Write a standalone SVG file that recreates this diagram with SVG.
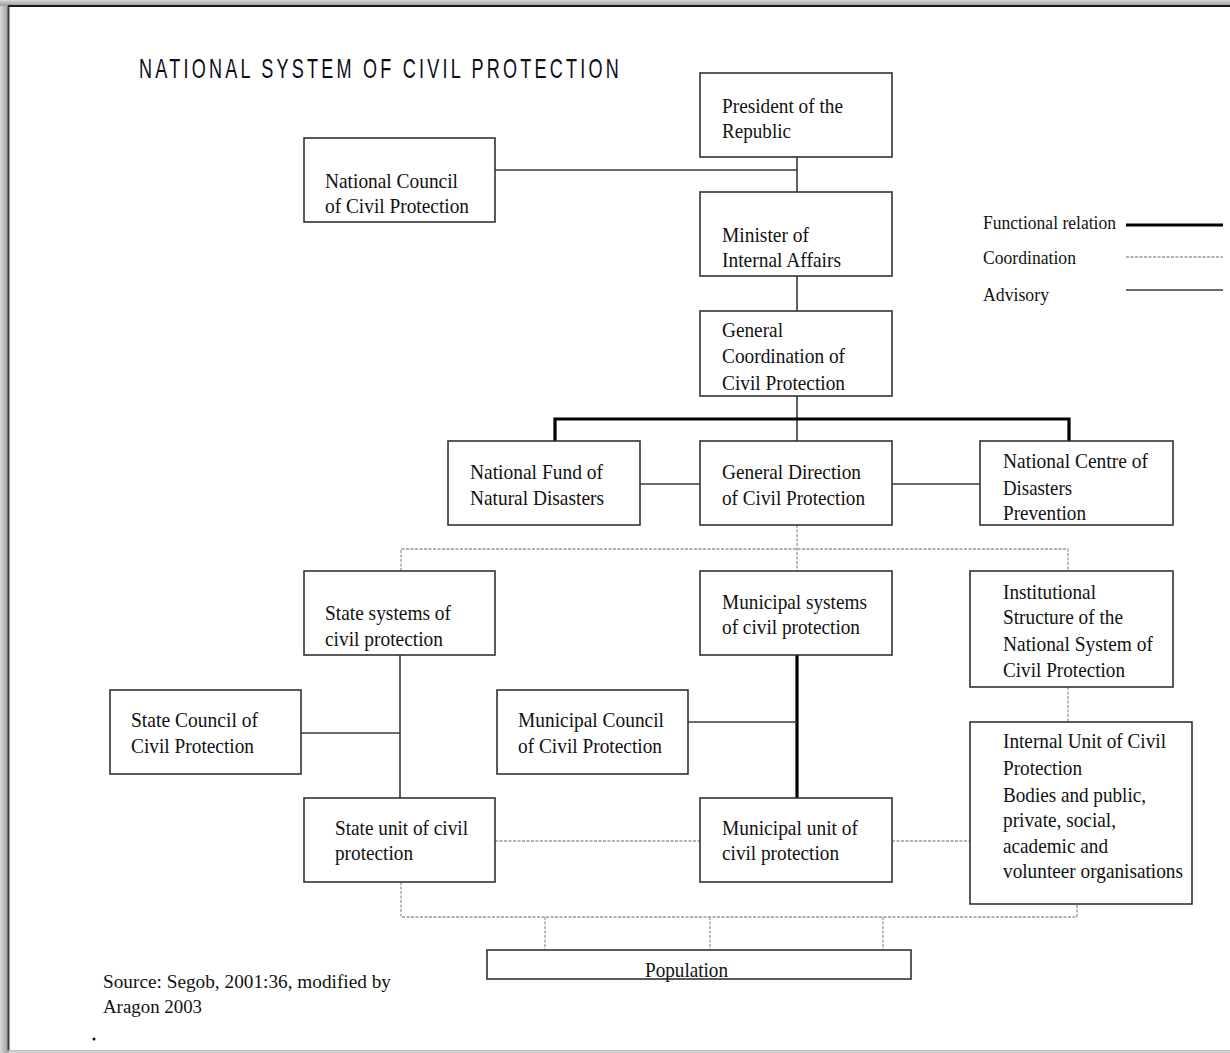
<svg xmlns="http://www.w3.org/2000/svg" width="1230" height="1053" viewBox="0 0 1230 1053">
<defs>
<linearGradient id="gl" x1="0" y1="0" x2="1" y2="0"><stop offset="0" stop-color="#d8d8d8"/><stop offset="1" stop-color="#9a9a9a"/></linearGradient>
<linearGradient id="gt" x1="0" y1="0" x2="0" y2="1"><stop offset="0" stop-color="#d8d8d8"/><stop offset="1" stop-color="#9a9a9a"/></linearGradient>
</defs>
<style>
.box{fill:#fff;stroke:#333;stroke-width:1.6}
.t{font-family:"Liberation Serif","Times New Roman",serif;font-size:21px;fill:#111}
.src{font-family:"Liberation Serif","Times New Roman",serif;font-size:19.5px;fill:#111}
.title{font-family:"Liberation Sans",Arial,sans-serif;font-size:28px;fill:#0d0d1a;letter-spacing:5px}
.adv{stroke:#3a3a3a;stroke-width:1.6;fill:none}
.fun{stroke:#000;stroke-width:3.2;fill:none}
.coo{stroke:#999;stroke-width:1.3;stroke-dasharray:3 1.5;fill:none}
</style>
<rect x="0" y="0" width="1230" height="1053" fill="#d0d0d0"/>
<rect x="0" y="0" width="9" height="1053" fill="url(#gl)"/>
<rect x="0" y="0" width="1230" height="6" fill="url(#gt)"/>
<rect x="9" y="6" width="1230" height="1044" fill="#fff"/>
<line x1="8.5" y1="6" x2="8.5" y2="1050" stroke="#3c3c3c" stroke-width="2"/>
<line x1="8" y1="6" x2="1230" y2="6" stroke="#1a1a1a" stroke-width="2"/>
<line x1="9" y1="1050.5" x2="1230" y2="1050.5" stroke="#bdbdbd" stroke-width="1"/>

<text class="title" x="139" y="78" textLength="483" lengthAdjust="spacingAndGlyphs">NATIONAL SYSTEM OF CIVIL PROTECTION</text>

<g id="connectors">
<line class="adv" x1="495" y1="170" x2="797" y2="170"/>
<line class="adv" x1="797" y1="157" x2="797" y2="192"/>
<line class="adv" x1="797" y1="276" x2="797" y2="311"/>
<line class="adv" x1="797" y1="396" x2="797" y2="441"/>
<line class="adv" x1="640" y1="484" x2="700" y2="484"/>
<line class="adv" x1="892" y1="484" x2="980" y2="484"/>
<path class="fun" d="M555 441 V419 H1069 V441"/>
<line class="coo" x1="797" y1="525" x2="797" y2="571"/>
<path class="coo" d="M401 571 V549 H1068 V571"/>
<line class="adv" x1="400" y1="655" x2="400" y2="798"/>
<line class="adv" x1="301" y1="733" x2="400" y2="733"/>
<line class="fun" x1="797" y1="655" x2="797" y2="798"/>
<line class="adv" x1="688" y1="722" x2="797" y2="722"/>
<line class="coo" x1="1068" y1="687" x2="1068" y2="722"/>
<line class="coo" x1="495" y1="841" x2="700" y2="841"/>
<line class="coo" x1="892" y1="841" x2="970" y2="841"/>
<path class="coo" d="M401 882 V917 H1077 V904"/>
<line class="coo" x1="545" y1="917" x2="545" y2="950"/>
<line class="coo" x1="710" y1="917" x2="710" y2="950"/>
<line class="coo" x1="883" y1="917" x2="883" y2="950"/>
</g>

<g id="legend">
<text class="src" x="983" y="229" textLength="133" lengthAdjust="spacingAndGlyphs">Functional relation</text>
<text class="src" x="983" y="264" textLength="93" lengthAdjust="spacingAndGlyphs">Coordination</text>
<text class="src" x="983" y="301" textLength="66" lengthAdjust="spacingAndGlyphs">Advisory</text>
<line class="fun" x1="1126" y1="225" x2="1223" y2="225"/>
<line class="coo" x1="1126" y1="257" x2="1223" y2="257" stroke="#bbb"/>
<line class="adv" x1="1126" y1="290" x2="1223" y2="290" stroke="#555"/>
</g>

<g id="president"><rect class="box" x="700" y="73" width="192" height="84"/>
<text class="t" x="722" y="113" textLength="121" lengthAdjust="spacingAndGlyphs">President of the</text>
<text class="t" x="722" y="138" textLength="69" lengthAdjust="spacingAndGlyphs">Republic</text></g>

<g id="national-council"><rect class="box" x="304" y="138" width="191" height="84"/>
<text class="t" x="325" y="188" textLength="133" lengthAdjust="spacingAndGlyphs">National Council</text>
<text class="t" x="325" y="213" textLength="144" lengthAdjust="spacingAndGlyphs">of Civil Protection</text></g>

<g id="minister"><rect class="box" x="700" y="192" width="192" height="84"/>
<text class="t" x="722" y="242" textLength="87" lengthAdjust="spacingAndGlyphs">Minister of</text>
<text class="t" x="722" y="267" textLength="119" lengthAdjust="spacingAndGlyphs">Internal Affairs</text></g>

<g id="general-coordination"><rect class="box" x="700" y="311" width="192" height="85"/>
<text class="t" x="722" y="337" textLength="61" lengthAdjust="spacingAndGlyphs">General</text>
<text class="t" x="722" y="363" textLength="123" lengthAdjust="spacingAndGlyphs">Coordination of</text>
<text class="t" x="722" y="390" textLength="123" lengthAdjust="spacingAndGlyphs">Civil Protection</text></g>

<g id="national-fund"><rect class="box" x="448" y="441" width="192" height="84"/>
<text class="t" x="470" y="479" textLength="133" lengthAdjust="spacingAndGlyphs">National Fund of</text>
<text class="t" x="470" y="505" textLength="134" lengthAdjust="spacingAndGlyphs">Natural Disasters</text></g>

<g id="general-direction"><rect class="box" x="700" y="441" width="192" height="84"/>
<text class="t" x="722" y="479" textLength="139" lengthAdjust="spacingAndGlyphs">General Direction</text>
<text class="t" x="722" y="505" textLength="143" lengthAdjust="spacingAndGlyphs">of Civil Protection</text></g>

<g id="national-centre"><rect class="box" x="980" y="441" width="193" height="84"/>
<text class="t" x="1003" y="468" textLength="145" lengthAdjust="spacingAndGlyphs">National Centre of</text>
<text class="t" x="1003" y="495" textLength="69" lengthAdjust="spacingAndGlyphs">Disasters</text>
<text class="t" x="1003" y="520" textLength="83" lengthAdjust="spacingAndGlyphs">Prevention</text></g>

<g id="state-systems"><rect class="box" x="304" y="571" width="191" height="84"/>
<text class="t" x="325" y="620" textLength="126" lengthAdjust="spacingAndGlyphs">State systems of</text>
<text class="t" x="325" y="646" textLength="118" lengthAdjust="spacingAndGlyphs">civil protection</text></g>

<g id="municipal-systems"><rect class="box" x="700" y="571" width="192" height="84"/>
<text class="t" x="722" y="609" textLength="145" lengthAdjust="spacingAndGlyphs">Municipal systems</text>
<text class="t" x="722" y="634" textLength="138" lengthAdjust="spacingAndGlyphs">of civil protection</text></g>

<g id="institutional-structure"><rect class="box" x="970" y="571" width="203" height="116"/>
<text class="t" x="1003" y="599" textLength="93" lengthAdjust="spacingAndGlyphs">Institutional</text>
<text class="t" x="1003" y="624" textLength="120" lengthAdjust="spacingAndGlyphs">Structure of the</text>
<text class="t" x="1003" y="651" textLength="150" lengthAdjust="spacingAndGlyphs">National System of</text>
<text class="t" x="1003" y="677" textLength="122" lengthAdjust="spacingAndGlyphs">Civil Protection</text></g>

<g id="state-council"><rect class="box" x="110" y="690" width="191" height="84"/>
<text class="t" x="131" y="727" textLength="127" lengthAdjust="spacingAndGlyphs">State Council of</text>
<text class="t" x="131" y="753" textLength="123" lengthAdjust="spacingAndGlyphs">Civil Protection</text></g>

<g id="municipal-council"><rect class="box" x="497" y="690" width="191" height="84"/>
<text class="t" x="518" y="727" textLength="146" lengthAdjust="spacingAndGlyphs">Municipal Council</text>
<text class="t" x="518" y="753" textLength="144" lengthAdjust="spacingAndGlyphs">of Civil Protection</text></g>

<g id="internal-unit"><rect class="box" x="970" y="722" width="222" height="182"/>
<text class="t" x="1003" y="748" textLength="163" lengthAdjust="spacingAndGlyphs">Internal Unit of Civil</text>
<text class="t" x="1003" y="775" textLength="79" lengthAdjust="spacingAndGlyphs">Protection</text>
<text class="t" x="1003" y="802" textLength="143" lengthAdjust="spacingAndGlyphs">Bodies and public,</text>
<text class="t" x="1003" y="827" textLength="113" lengthAdjust="spacingAndGlyphs">private, social,</text>
<text class="t" x="1003" y="853" textLength="105" lengthAdjust="spacingAndGlyphs">academic and</text>
<text class="t" x="1003" y="878" textLength="180" lengthAdjust="spacingAndGlyphs">volunteer organisations</text></g>

<g id="state-unit"><rect class="box" x="304" y="798" width="191" height="84"/>
<text class="t" x="335" y="835" textLength="133" lengthAdjust="spacingAndGlyphs">State unit of civil</text>
<text class="t" x="335" y="860" textLength="78" lengthAdjust="spacingAndGlyphs">protection</text></g>

<g id="municipal-unit"><rect class="box" x="700" y="798" width="192" height="84"/>
<text class="t" x="722" y="835" textLength="136" lengthAdjust="spacingAndGlyphs">Municipal unit of</text>
<text class="t" x="722" y="860" textLength="117" lengthAdjust="spacingAndGlyphs">civil protection</text></g>

<g id="population"><rect class="box" x="487" y="950" width="424" height="29"/>
<text class="t" x="645" y="977" textLength="83" lengthAdjust="spacingAndGlyphs">Population</text></g>

<g id="source">
<text class="src" x="103" y="988" textLength="288" lengthAdjust="spacingAndGlyphs">Source: Segob, 2001:36, modified by</text>
<text class="src" x="103" y="1013" textLength="99" lengthAdjust="spacingAndGlyphs">Aragon 2003</text>
<circle cx="94" cy="1039" r="1.5" fill="#111"/>
</g>
</svg>
